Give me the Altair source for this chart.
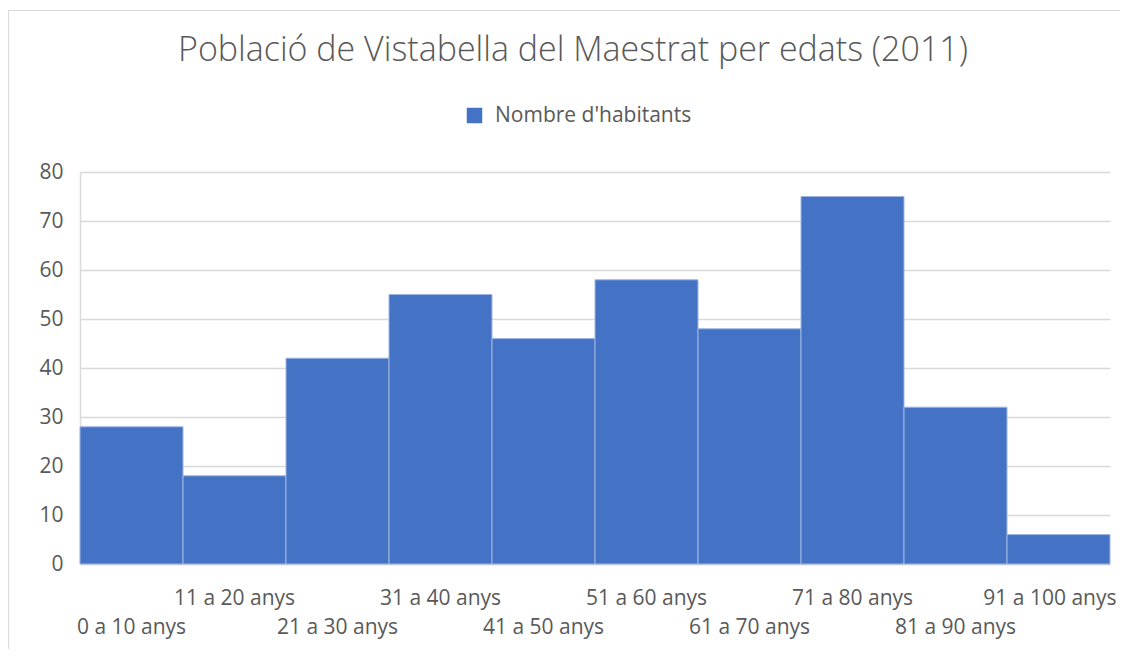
import altair as alt
import pandas as pd

categories = ["0 a 10 anys", "11 a 20 anys", "21 a 30 anys", "31 a 40 anys", "41 a 50 anys",
              "51 a 60 anys", "61 a 70 anys", "71 a 80 anys", "81 a 90 anys", "91 a 100 anys"]
values = [28, 18, 42, 55, 46, 58, 48, 75, 32, 6]
series_name = "Nombre d'habitants"
title_text = "Població de Vistabella del Maestrat per edats (2011)"

df = pd.DataFrame({"edat": categories, "habitants": values, "serie": [series_name] * len(values)})

FONT = "Open Sans"
GREY = "#595959"
cat_list = "[" + ",".join("'" + c + "'" for c in categories) + "]"
label_expr = f"indexof({cat_list}, datum.value) % 2 == 0 ? ['', datum.label] : datum.label"
last_test = f"datum.value == '{categories[-1]}'"

bars = alt.Chart(df).mark_bar(stroke="#9fb6e2", strokeWidth=1).encode(
    x=alt.X("edat:N", sort=categories,
            scale=alt.Scale(paddingInner=0, paddingOuter=0),
            axis=alt.Axis(title=None, labelAngle=0, labelExpr=label_expr, labelLineHeight=29,
                          labelPadding=23, labelFontSize=21, labelFont=FONT, labelColor=GREY,
                          labelAlign=alt.condition(last_test, alt.value("right"), alt.value("center")),
                          labelOffset=alt.condition(last_test, alt.value(58), alt.value(0)),
                          labelOverlap=False, labelLimit=300, ticks=False,
                          domainColor="#d9d9d9", domainWidth=1.5)),
    y=alt.Y("habitants:Q", scale=alt.Scale(domain=[0, 80]),
            axis=alt.Axis(title=None, values=list(range(0, 81, 10)), labelFontSize=21,
                          labelFont=FONT, labelColor=GREY, labelPadding=17, ticks=False,
                          domainColor="#d9d9d9", domainWidth=1.5,
                          gridColor="#d9d9d9", gridWidth=1.5)),
    color=alt.Color("serie:N", scale=alt.Scale(range=["#4472C4"]),
                    legend=alt.Legend(title=None, orient="none", legendX=384, legendY=-67,
                                      symbolType="square", symbolSize=240, symbolStrokeWidth=0,
                                      labelFontSize=21, labelFont=FONT, labelColor=GREY,
                                      labelOffset=10, labelLimit=400)),
)

frame = alt.Chart(pd.DataFrame({"a": [0]})).mark_rect(
    fill=None, stroke="#d9d9d9", strokeWidth=1, clip=False
).encode(x=alt.value(-71.5), x2=alt.value(1200), y=alt.value(-161.5), y2=alt.value(700))

title = alt.Chart(pd.DataFrame({"t": [title_text]})).mark_text(
    font=FONT, fontSize=34, fontWeight=300, color=GREY, align="center", baseline="alphabetic"
).encode(text="t:N", x=alt.value(493), y=alt.value(-111))

chart = alt.layer(frame, bars, title).properties(
    width=1030, height=392,
    autosize=alt.AutoSizeParams(type="none"),
    padding={"left": 72, "top": 164, "right": 10, "bottom": 85},
).configure_view(stroke=None)

chart.save("out.html", embed_options={"renderer": "svg", "actions": False})
